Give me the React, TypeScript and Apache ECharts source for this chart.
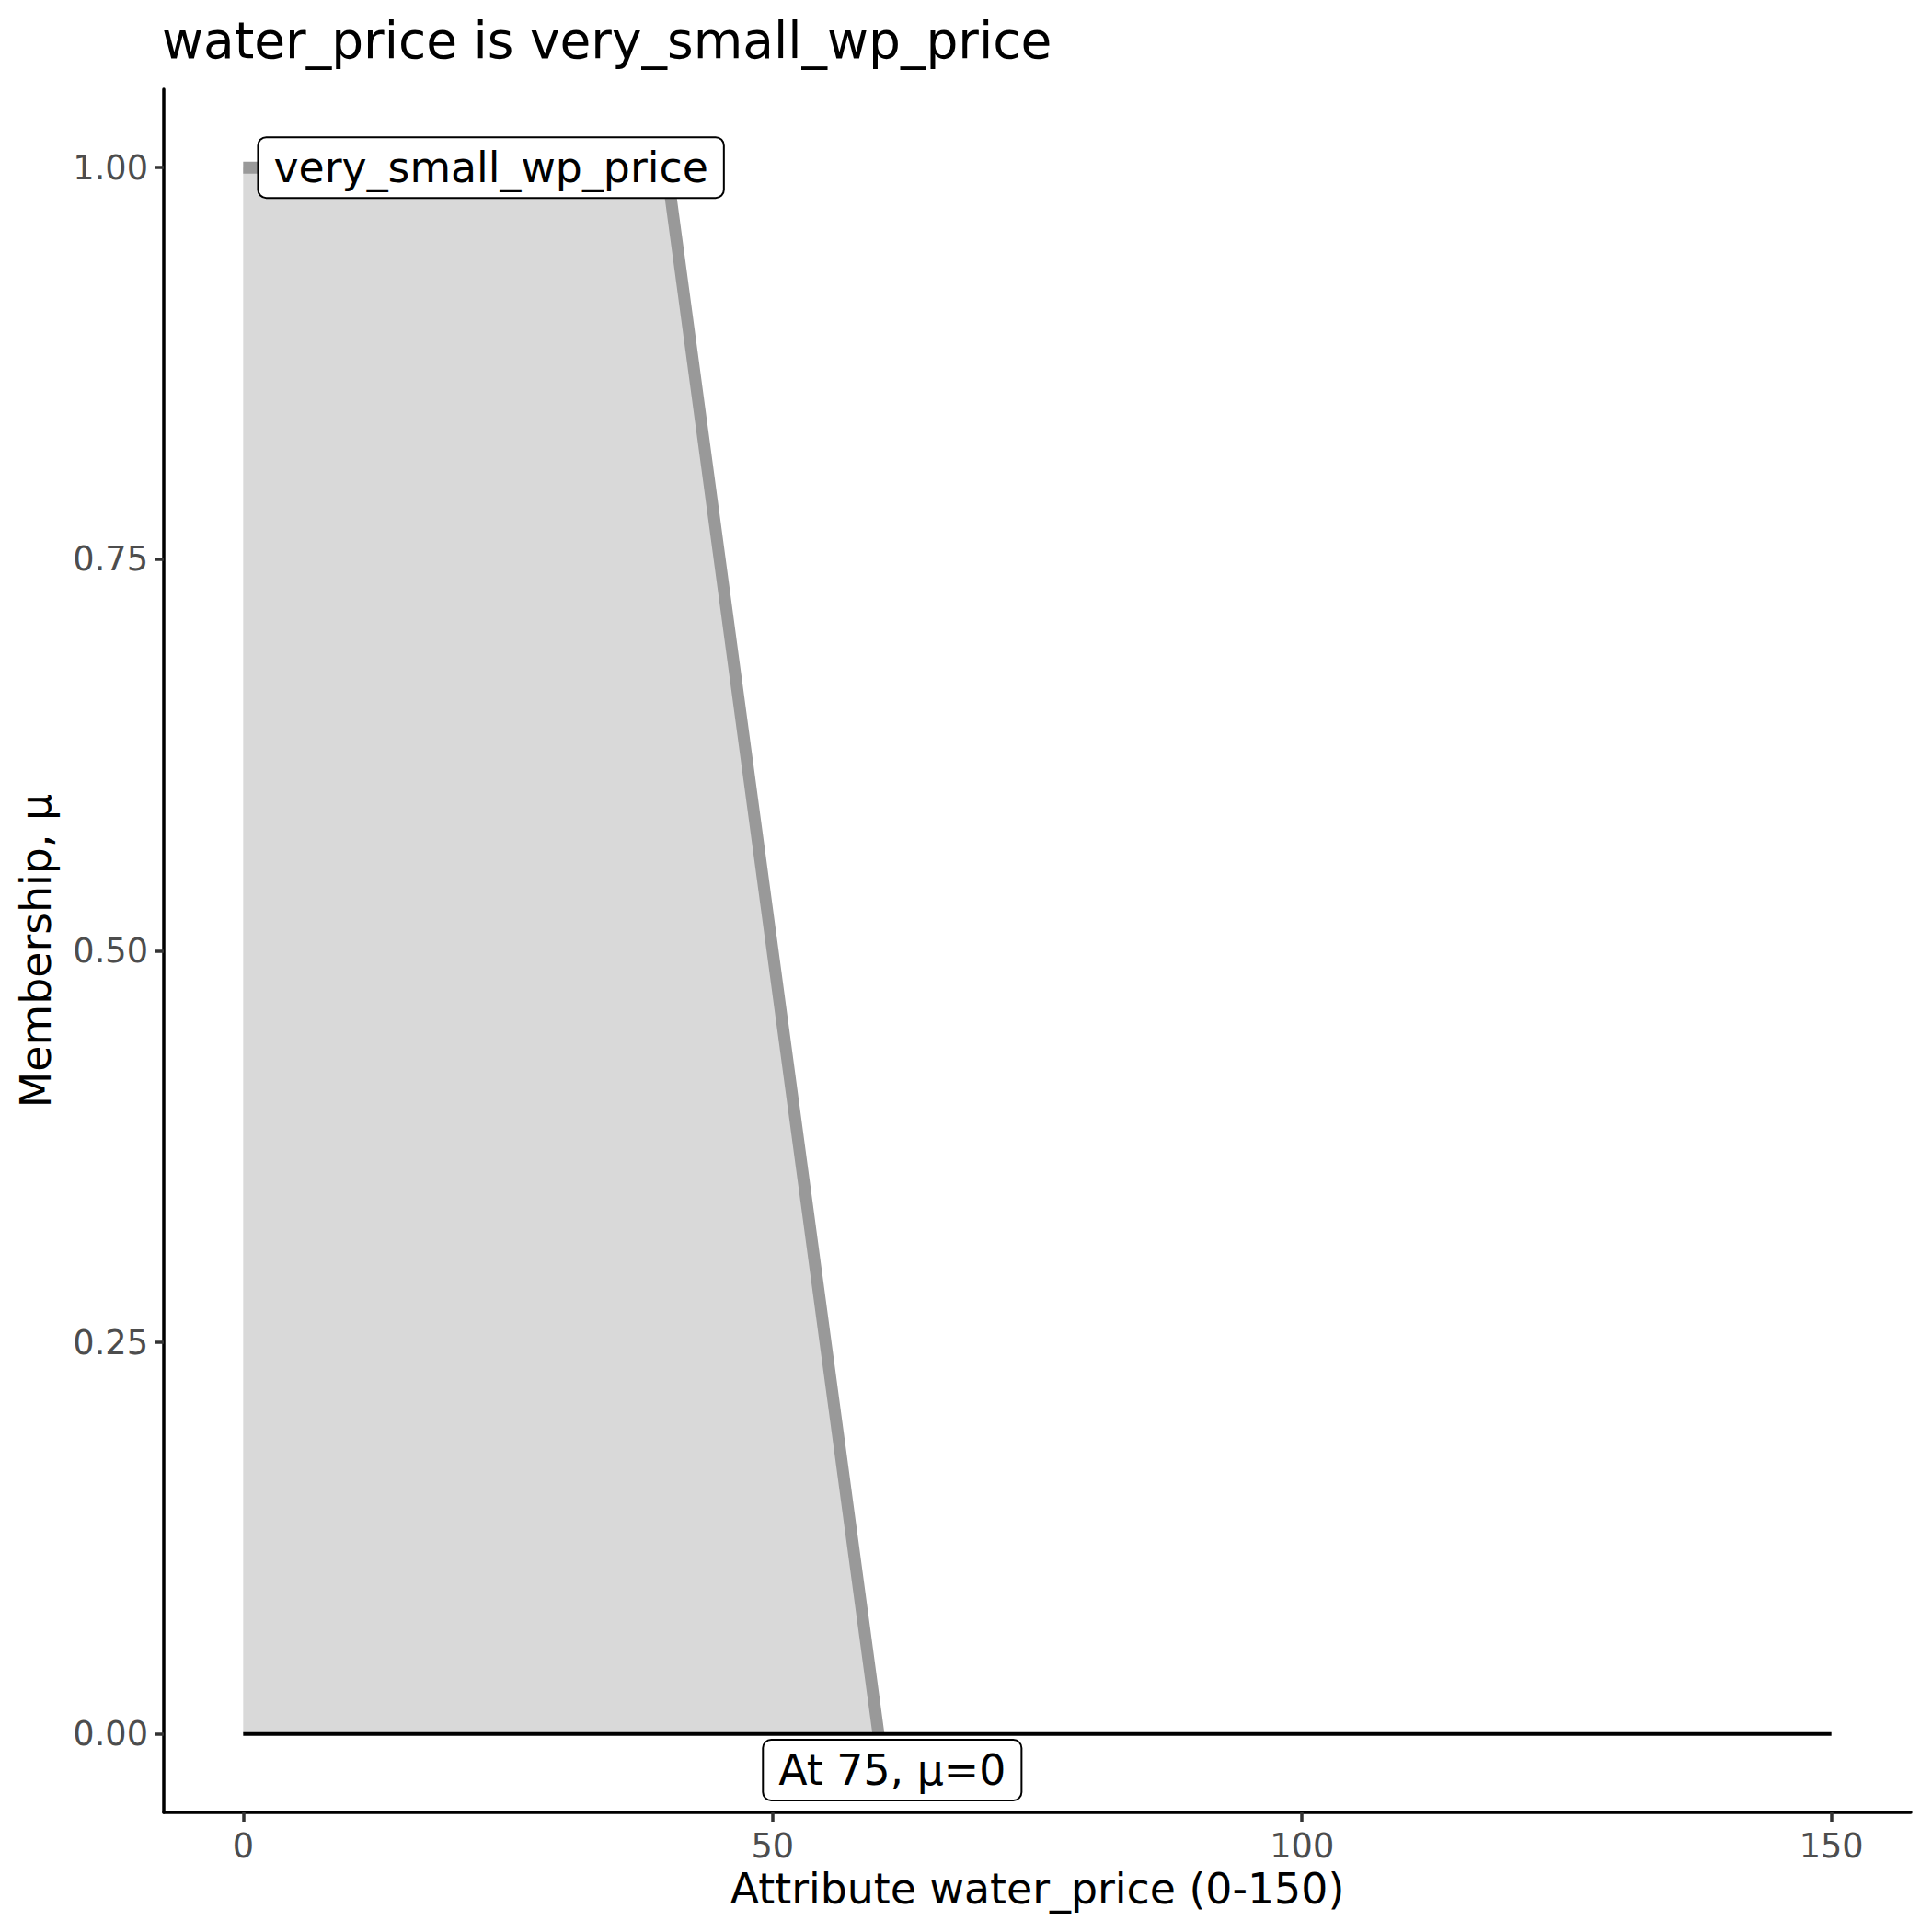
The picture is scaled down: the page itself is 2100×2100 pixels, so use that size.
import React, { useEffect, useRef } from "react";
import * as echarts from "echarts";

// Membership function breakpoints (x) and membership values (mu)
const mfX = [0, 40, 60];
const mfMu = [1, 1, 0];

// Baseline of the universe of discourse
const baseX = [0, 150];
const baseMu = [0, 0];

// Tick values
const xTicks = [0, 50, 100, 150];
const yTicks = [0, 0.25, 0.5, 0.75, 1];

// Annotation labels
const labelTexts = ["very_small_wp_price", "At 75, μ=0"];
const labelX = [23.4, 61.3];
const labelY = [1.0, -0.023];

const titleText = "water_price is very_small_wp_price";
const xName = "Attribute water_price (0-150)";
const yName = "Membership, μ";

const FONT = "DejaVu Sans";

export default function App() {
  const ref = useRef<HTMLDivElement>(null);

  useEffect(() => {
    document.body.style.margin = "0";
    if (!ref.current) return;
    const chart = echarts.init(ref.current, null, { renderer: "svg" });

    const mfData = mfX.map((x, i) => [x, mfMu[i]]);
    const baseData = baseX.map((x, i) => [x, baseMu[i]]);
    const labelData = labelTexts.map((t, i) => ({ value: [labelX[i], labelY[i]], name: t }));

    chart.setOption({
      animation: false,
      backgroundColor: "#ffffff",
      textStyle: { fontFamily: FONT },
      title: {
        text: titleText,
        left: 176,
        top: 16,
        padding: 0,
        textStyle: { fontFamily: FONT, fontSize: 55, fontWeight: "normal", color: "#000000" },
      },
      grid: { left: 178, right: 23, top: 97, bottom: 130 },
      xAxis: {
        type: "value",
        min: -7.5,
        max: 157.5,
        name: xName,
        nameLocation: "middle",
        nameGap: 59,
        nameTextStyle: { fontFamily: FONT, fontSize: 45.8, color: "#000000" },
        axisLine: { show: true, onZero: false, lineStyle: { color: "#000000", width: 3.5 } },
        axisTick: { show: true, length: 10, customValues: xTicks, lineStyle: { color: "#333333", width: 3.5 } },
        axisLabel: {
          show: true,
          customValues: xTicks,
          margin: 18,
          fontFamily: FONT,
          fontSize: 36.7,
          color: "#4D4D4D",
        },
        splitLine: { show: false },
      },
      yAxis: {
        type: "value",
        min: -0.05,
        max: 1.05,
        name: yName,
        nameLocation: "middle",
        nameGap: 116,
        nameTextStyle: { fontFamily: FONT, fontSize: 45.8, color: "#000000" },
        axisLine: { show: true, onZero: false, lineStyle: { color: "#000000", width: 3.5 } },
        axisTick: { show: true, length: 10, customValues: yTicks, lineStyle: { color: "#333333", width: 3.5 } },
        axisLabel: {
          show: true,
          customValues: yTicks,
          margin: 17,
          fontFamily: FONT,
          fontSize: 36.7,
          color: "#4D4D4D",
          formatter: (v: number) => v.toFixed(2),
        },
        splitLine: { show: false },
      },
      series: [
        {
          type: "line",
          data: mfData,
          symbol: "none",
          lineStyle: { color: "#999999", width: 13, cap: "butt", join: "miter" },
          areaStyle: { color: "#D9D9D9", opacity: 1, origin: 0 },
          z: 2,
        },
        {
          type: "line",
          data: baseData,
          symbol: "none",
          lineStyle: { color: "#000000", width: 4, cap: "butt" },
          z: 3,
        },
        {
          type: "scatter",
          data: labelData,
          symbolSize: 0,
          z: 5,
          itemStyle: { opacity: 1 },
          label: {
            show: true,
            position: "inside",
            formatter: (p: any) => p.name,
            fontFamily: FONT,
            fontSize: 45.8,
            color: "#000000",
            opacity: 1,
            backgroundColor: "#ffffff",
            borderColor: "#000000",
            borderWidth: 2,
            borderRadius: 8,
            padding: [9, 16],
          },
        },
      ],
    });

    return () => chart.dispose();
  }, []);

  return (
    <div
      ref={ref}
      style={{ position: "absolute", left: 0, top: 0, width: 2100, height: 2100 }}
    />
  );
}
